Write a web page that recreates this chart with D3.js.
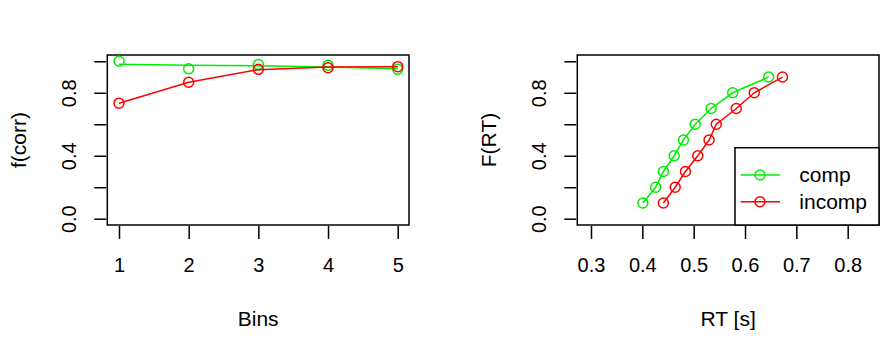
<!DOCTYPE html>
<html><head><meta charset="utf-8">
<script src="https://cdn.jsdelivr.net/npm/d3@7"></script>
<style>
html,body{margin:0;padding:0;background:#fff;}
svg text{font-family:"Liberation Sans",Arial,Helvetica,sans-serif;fill:#000;}
</style></head>
<body>
<svg id="chart" width="885" height="354"></svg>
<script>
// ---- data ----
const bins = [1, 2, 3, 4, 5];
const compObs = [1.0, 0.953, 0.979, 0.975, 0.949];
const compFit = [0.981, 0.975, 0.972, 0.964, 0.953];
const incompObs = [0.734, 0.867, 0.949, 0.959, 0.966];
const incompFit = [0.734, 0.867, 0.947, 0.964, 0.966];

const quantiles = [0.1, 0.2, 0.3, 0.4, 0.5, 0.6, 0.7, 0.8, 0.9];
const compRT = [0.401, 0.426, 0.441, 0.462, 0.480, 0.503, 0.534, 0.576, 0.646];
const incompRT = [0.441, 0.464, 0.484, 0.508, 0.530, 0.544, 0.583, 0.618, 0.673];

const yTicks = [0, 0.2, 0.4, 0.6, 0.8, 1.0];
const yTickLabels = ["0.0", "", "0.4", "", "0.8", ""];
const binTicks = [1, 2, 3, 4, 5];
const rtTicks = [0.3, 0.4, 0.5, 0.6, 0.7, 0.8];
const seriesNames = ["comp", "incomp"];
const seriesColors = ["#00ee00", "#ff0000"];

// ---- layout ----
const svg = d3.select("#chart");
const plotTop = 55, plotBottom = 225;
const y = d3.scaleLinear().domain([-0.04, 1.04]).range([plotBottom, plotTop]);

function panel(x, xTicks, xFmt, xLabel, yLabel, offsetX) {
  const g = svg.append("g");
  const [x0, x1] = x.range();
  g.append("rect").attr("x", x0).attr("y", plotTop).attr("width", x1 - x0).attr("height", plotBottom - plotTop)
    .attr("fill", "none").attr("stroke", "#000").attr("stroke-width", 1.5);
  const xa = g.append("g").attr("transform", `translate(0,${plotBottom + 1})`)
    .call(d3.axisBottom(x).tickValues(xTicks).tickFormat(xFmt).tickSize(13).tickPadding(19));
  xa.select(".domain").remove();
  xa.selectAll("line").attr("stroke", "#000").attr("stroke-width", 1.5);
  xa.selectAll("text").attr("font-size", 20);
  const ya = g.append("g").attr("transform", `translate(${x0 - 1},0)`)
    .call(d3.axisLeft(y).tickValues(yTicks).tickFormat((d, i) => yTickLabels[i]).tickSize(12).tickPadding(0));
  ya.select(".domain").remove();
  ya.selectAll("line").attr("stroke", "#000").attr("stroke-width", 1.5);
  ya.selectAll("text").attr("font-size", 20)
    .attr("text-anchor", "middle").attr("dy", null)
    .attr("x", 0).attr("y", 0)
    .attr("transform", "translate(-30,0) rotate(-90)");
  g.append("text").attr("x", (x0 + x1) / 2).attr("y", 326).attr("text-anchor", "middle")
    .attr("font-size", 21).text(xLabel);
  g.append("text").attr("transform", `translate(${26 + offsetX},${(plotTop + plotBottom) / 2}) rotate(-90)`)
    .attr("text-anchor", "middle").attr("font-size", 21).text(yLabel);
  return g;
}

function series(g, x, xs, ysLine, ysPts, color) {
  const line = d3.line().x((d, i) => x(xs[i])).y(d => y(d));
  g.append("path").datum(ysLine).attr("d", line).attr("fill", "none")
    .attr("stroke", color).attr("stroke-width", 1.5);
  g.selectAll(null).data(ysPts).enter().append("circle")
    .attr("cx", (d, i) => x(xs[i])).attr("cy", d => y(d)).attr("r", 5)
    .attr("fill", "none").attr("stroke", color).attr("stroke-width", 1.5);
}

const xBins = d3.scaleLinear().domain([0.832, 5.162]).range([107.3, 409]);
const gL = panel(xBins, binTicks, d3.format("d"), "Bins", "f(corr)", 0);
series(gL, xBins, bins, compFit, compObs, seriesColors[0]);
series(gL, xBins, bins, incompFit, incompObs, seriesColors[1]);

const xRT = d3.scaleLinear().domain([0.2733, 0.861]).range([577.3, 879]);
const gR = panel(xRT, rtTicks, d3.format(".1f"), "RT [s]", "F(RT)", 470);
series(gR, xRT, compRT, quantiles, quantiles, seriesColors[0]);
series(gR, xRT, incompRT, quantiles, quantiles, seriesColors[1]);

const lg = svg.append("g");
lg.append("rect").attr("x", 735).attr("y", 147.7).attr("width", 879 - 735).attr("height", plotBottom - 147.7)
  .attr("fill", "#fff").attr("stroke", "#000").attr("stroke-width", 1.5);
const rowY = [175, 201.7];
seriesNames.forEach((name, i) => {
  lg.append("line").attr("x1", 740.7).attr("x2", 780).attr("y1", rowY[i]).attr("y2", rowY[i])
    .attr("stroke", seriesColors[i]).attr("stroke-width", 1.5);
  lg.append("circle").attr("cx", 760).attr("cy", rowY[i]).attr("r", 5)
    .attr("fill", "none").attr("stroke", seriesColors[i]).attr("stroke-width", 1.5);
  lg.append("text").attr("x", 799.3).attr("y", rowY[i]).attr("dy", "0.35em")
    .attr("font-size", 21).text(name);
});
</script>
</body></html>
